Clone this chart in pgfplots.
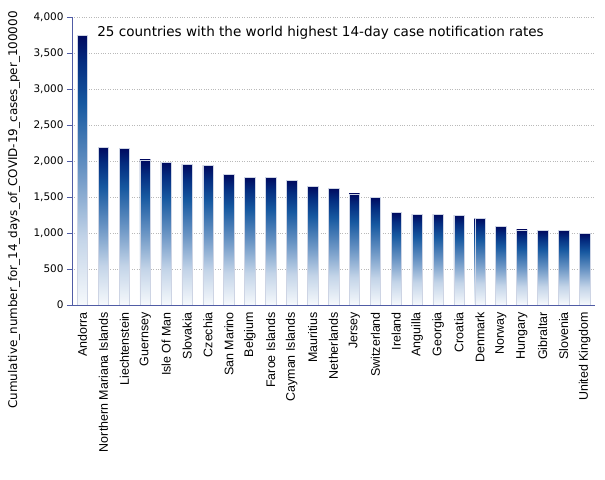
\documentclass[border=0pt]{standalone}
\usepackage{pgfplots}
\pgfplotsset{compat=1.18}
\usepackage{fontspec}
\setmainfont{DejaVu Sans}
\newfontfamily\xlabfont{Liberation Sans}

\definecolor{axisblue}{RGB}{80,92,165}
\definecolor{gridgray}{RGB}{185,185,185}
\definecolor{barline}{RGB}{205,212,228}

% vertical gradient of the bars, white at the foot, navy at the top
\pgfdeclareverticalshading{barshade}{100bp}{
  color(0bp)=(white);
  color(25bp)=(rgb,255:red,246;green,249;blue,252);
  color(37.5bp)=(rgb,255:red,195;green,212;blue,232);
  color(50bp)=(rgb,255:red,105;green,148;blue,196);
  color(62.5bp)=(rgb,255:red,22;green,88;blue,160);
  color(70bp)=(rgb,255:red,4;green,45;blue,128);
  color(75bp)=(rgb,255:red,0;green,10;blue,95);
  color(76bp)=(white);
  color(100bp)=(white)}

% grid under the bars, axis lines and ticks above them
\pgfplotsset{
  layers/barsbelow/.define layer set={axis background,axis grid,main,axis ticks,axis lines,axis tick labels,axis descriptions,axis foreground}{/pgfplots/layers/standard},
  onebar/.style={ybar, bar shift=0pt, bar width=0.5, draw=barline,
    line width=0.4pt, shading=barshade},
}

\begin{document}
\begin{tikzpicture}
\begin{axis}[
  set layers=barsbelow,
  at={(0,0)}, anchor=south west,
  scale only axis,
  width=523bp, height=288bp,
  xmin=-0.5, xmax=24.5,
  ymin=0, ymax=4000,
  axis x line*=bottom, axis y line*=left,
  axis line style={axisblue, line width=0.6pt},
  xtick={0,...,24},
  xticklabels={Andorra,Northern Mariana Islands,Liechtenstein,Guernsey,Isle Of Man,Slovakia,Czechia,San Marino,Belgium,Faroe Islands,Cayman Islands,Mauritius,Netherlands,Jersey,Switzerland,Ireland,Anguilla,Georgia,Croatia,Denmark,Norway,Hungary,Gibraltar,Slovenia,United Kingdom},
  x tick label style={rotate=90, anchor=east, font=\xlabfont\fontsize{12.5}{14}\selectfont, inner sep=2pt},
  minor xtick={-0.5,0.5,...,24.5},
  x tick style={draw=none},
  minor x tick style={axisblue, line width=0.6pt},
  tick align=outside,
  minor tick length=4bp,
  ytick={0,500,...,4000},
  y tick style={axisblue, line width=0.6pt},
  major tick length=5bp,
  y tick label style={font=\fontsize{10.5}{12}\selectfont},
  /pgf/number format/assume math mode=true,
  /pgf/number format/1000 sep={,},
  scaled y ticks=false,
  ymajorgrids=true,
  grid style={gridgray, dotted, line width=0.6pt},
  clip=false,
]
% one plot per bar, so that each bar gets its own gradient
\addplot[onebar] coordinates {(0,3744)};
\addplot[onebar] coordinates {(1,2190)};
\addplot[onebar] coordinates {(2,2177)};
\addplot[onebar] coordinates {(3,2014)};
\addplot[onebar] coordinates {(4,1986)};
\addplot[onebar] coordinates {(5,1950)};
\addplot[onebar] coordinates {(6,1935)};
\addplot[onebar] coordinates {(7,1815)};
\addplot[onebar] coordinates {(8,1773)};
\addplot[onebar] coordinates {(9,1773)};
\addplot[onebar] coordinates {(10,1731)};
\addplot[onebar] coordinates {(11,1650)};
\addplot[onebar] coordinates {(12,1623)};
\addplot[onebar] coordinates {(13,1544)};
\addplot[onebar] coordinates {(14,1498)};
\addplot[onebar] coordinates {(15,1289)};
\addplot[onebar] coordinates {(16,1261)};
\addplot[onebar] coordinates {(17,1261)};
\addplot[onebar] coordinates {(18,1243)};
\addplot[onebar] coordinates {(19,1205)};
\addplot[onebar] coordinates {(20,1094)};
\addplot[onebar] coordinates {(21,1044)};
\addplot[onebar] coordinates {(22,1035)};
\addplot[onebar] coordinates {(23,1035)};
\addplot[onebar] coordinates {(24,993)};
\node[anchor=west, inner sep=0pt, font=\fontsize{13.6}{15}\selectfont]
  at (rel axis cs:0.048,0.944) {25 countries with the world highest 14-day case notification rates};
\end{axis}
\node[rotate=90, inner sep=0pt, font=\fontsize{12}{14}\selectfont] at (-58bp,95bp)
  {Cumulative\_number\_for\_14\_days\_of\_COVID-19\_cases\_per\_100000};
\pgfresetboundingbox
\path[use as bounding box] (-72bp,-175bp) rectangle (533bp,305bp);
\end{tikzpicture}
\end{document}
